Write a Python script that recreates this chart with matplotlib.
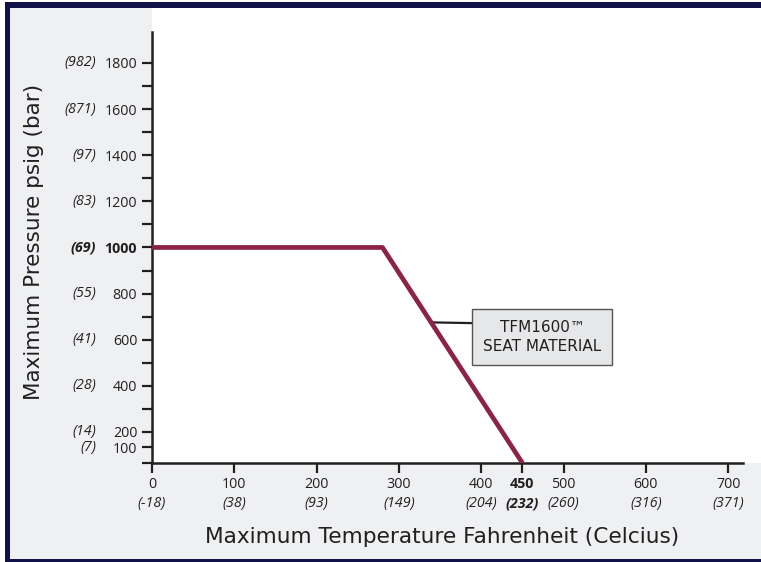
import numpy as np
import matplotlib
matplotlib.use('Agg')
import matplotlib.pyplot as plt
from matplotlib.patches import Rectangle
import matplotlib.transforms as mtransforms

# Datos
temp_f = [0, 280, 450]
pres_psig = [1000, 1000, 0]

xticks_f = [0, 100, 200, 300, 400, 450, 500, 600, 700]
xlabels_c = ['(-18)', '(38)', '(93)', '(149)', '(204)', '(232)', '(260)', '(316)', '(371)']
yticks_psig = [0, 100, 200, 400, 600, 800, 1000, 1200, 1400, 1600, 1800]
ylabels_bar = ['', '(7)', '(14)', '(28)', '(41)', '(55)', '(69)', '(83)', '(97)', '(871)', '(982)']
yminor = [300, 500, 700, 900, 1100, 1300, 1500, 1700]

serie_color = '#8c2343'
txt_color = '#231f20'
navy = '#10104a'
gris = '#eff0f2'

W, H = 761, 562

# escala comprimida por debajo de 200 psig (el grafico original no es lineal ahi)
K = 0.672
def fwd(v):
    v = np.asarray(v, dtype=float)
    return np.where(v >= 200, v, 200 - (200 - v) * K)

def inv(u):
    u = np.asarray(u, dtype=float)
    return np.where(u >= 200, u, 200 - (200 - u) / K)

fig = plt.figure(figsize=(W / 100, H / 100), dpi=100, facecolor='white')

def rect_px(x0, y0, x1, y1, color):
    fig.patches.append(Rectangle((x0 / W, 1 - y1 / H), (x1 - x0) / W, (y1 - y0) / H,
                                 transform=fig.transFigure, facecolor=color,
                                 edgecolor='none', zorder=-10))

# fondo y marco
rect_px(10, 8, 761, 559, gris)
rect_px(152, 8, 761, 463, 'white')
rect_px(5, 2, 761, 8, navy)
rect_px(5, 2, 10, 562, navy)
rect_px(5, 559, 761, 562, navy)

ax = fig.add_axes([152 / W, 1 - 463 / H, (743 - 152) / W, (463 - 32) / H])
ax.set_facecolor('none')
ax.set_yscale('function', functions=(fwd, inv))
ax.set_xlim(0, 718)
ax.set_ylim(0, 1934)

ax.plot(temp_f, pres_psig, color=serie_color, lw=3.4, solid_capstyle='butt', zorder=3)

for s in ['top', 'right']:
    ax.spines[s].set_visible(False)
for s in ['left', 'bottom']:
    ax.spines[s].set_linewidth(1.8)
    ax.spines[s].set_color(txt_color)

ax.set_xticks(xticks_f)
ax.set_xticklabels([str(v) for v in xticks_f])
ax.set_yticks(yticks_psig)
ax.set_yticklabels(['' if v == 0 else str(v) for v in yticks_psig])
ax.set_yticks(yminor, minor=True)
ax.tick_params(axis='both', which='both', direction='out', length=7.2, width=1.6,
               color=txt_color, labelcolor=txt_color)
ax.tick_params(axis='x', pad=3)
ax.tick_params(axis='y', pad=3.5)
for lbl in ax.get_xticklabels() + ax.get_yticklabels():
    lbl.set_fontfamily('Open Sans')
    lbl.set_fontsize(10.3)
    if lbl.get_text() in ('450', '1000'):
        lbl.set_fontweight('bold')

# etiquetas en Celsius y bar
tx = mtransforms.blended_transform_factory(ax.transData, ax.transAxes)
for v, c in zip(xticks_f, xlabels_c):
    ax.text(v, -0.093, c, transform=tx, ha='center', va='center', family='Open Sans',
            style='italic', fontsize=10.3, color=txt_color,
            fontweight='bold' if v == 450 else 'normal')
ty = mtransforms.blended_transform_factory(ax.transAxes, ax.transData)
for v, b in zip(yticks_psig, ylabels_bar):
    if b:
        ax.text(-0.0948, v, b, transform=ty, ha='right', va='center', family='Open Sans',
                style='italic', fontsize=10.3, color=txt_color,
                fontweight='bold' if v == 1000 else 'normal')

# anotacion
ax.annotate('TFM1600\u2122\nSEAT MATERIAL', xy=(341, 675), xytext=(474, 612),
            ha='center', va='center', fontsize=11, color=txt_color, family='DejaVu Sans',
            linespacing=1.35, zorder=2,
            bbox=dict(boxstyle='square,pad=0.7', facecolor='#e6e7e8', edgecolor='#555557', lw=1),
            arrowprops=dict(arrowstyle='-', color=txt_color, lw=1.6, relpos=(0, 0.9),
                            shrinkA=0, shrinkB=0))

fig.text(442 / W, 1 - 537 / H, 'Maximum Temperature Fahrenheit (Celcius)', ha='center',
         va='center', fontsize=15.6, color=txt_color)
fig.text(34 / W, 1 - 242 / H, 'Maximum Pressure psig (bar)', ha='center', va='center',
         rotation=90, fontsize=15.5, color=txt_color)

fig.savefig('out.png', dpi=100, facecolor=fig.get_facecolor())
